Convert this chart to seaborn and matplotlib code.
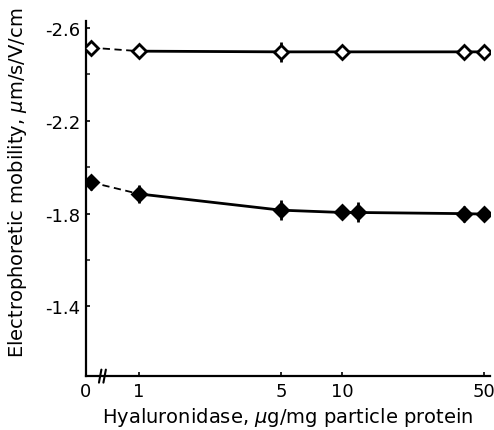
import matplotlib

matplotlib.use("Agg")
import matplotlib.pyplot as plt
import numpy as np
import pandas as pd
import seaborn as sns

# hyaluronidase dose (ug/mg particle protein) and mobility (um/s/V/cm)
dose_open = [0, 1, 5, 10, 40, 50]
mob_open = [-2.515, -2.500, -2.497, -2.497, -2.497, -2.497]
err_open = [0.020, 0.012, 0.042, 0.020, 0.030, 0.020]

dose_filled = [0, 1, 5, 10, 12, 40, 50]
mob_filled = [-1.935, -1.885, -1.815, -1.805, -1.805, -1.800, -1.798]
err_filled = [0.032, 0.040, 0.043, 0.025, 0.043, 0.035, 0.030]

x_ticks = [0, 1, 5, 10, 50]
x_ticklabels = ["0", "1", "5", "10", "50"]
y_ticks = [-2.6, -2.2, -1.8, -1.4]
y_minor = [-2.4, -2.0, -1.6]

ZERO_POS = -0.236   # where the "0" dose sits on the broken log axis
AXIS_LEFT = -0.261


def pos(d):
    d = np.asarray(d, dtype=float)
    return np.where(d > 0, np.log10(np.where(d > 0, d, 1)), ZERO_POS)


sns.set_theme(style="ticks")
plt.rcParams["font.family"] = ["DejaVu Sans"]
plt.rcParams["axes.unicode_minus"] = False

frames = []
for name, d, m, e in [("open", dose_open, mob_open, err_open),
                      ("filled", dose_filled, mob_filled, err_filled)]:
    frames.append(pd.DataFrame({"series": name, "dose": d, "mob": m, "err": e}))
df = pd.concat(frames, ignore_index=True)
df["pos"] = pos(df["dose"])

fig = plt.figure(figsize=(4.94, 4.31), dpi=100)
ax = fig.add_axes([0.174, 0.125, 0.818, 0.824])

solid = df[df["dose"] >= 1]
dashed = df[df["dose"] <= 1]
sns.lineplot(data=solid, x="pos", y="mob", units="series", estimator=None,
             color="black", lw=2.0, ax=ax, legend=False)
sns.lineplot(data=dashed, x="pos", y="mob", units="series", estimator=None,
             color="black", lw=1.3, ls=(0, (4, 2.5)), ax=ax, legend=False)

for name, face in [("open", "white"), ("filled", "black")]:
    s = df[df["series"] == name]
    ax.errorbar(s["pos"], s["mob"], yerr=s["err"], fmt="D", ms=7.5,
                mfc=face, mec="black", mew=2.0, ecolor="black",
                elinewidth=2.0, capsize=0, zorder=5)

ax.set_xlim(AXIS_LEFT, 1.729)
ax.set_ylim(-1.1, -2.63)
ax.set_xticks([AXIS_LEFT] + list(pos(x_ticks[1:])))
ax.set_xticklabels(x_ticklabels)
ax.set_yticks(y_ticks)
ax.set_yticklabels([f"{v:.1f}" for v in y_ticks])
ax.set_yticks(y_minor, minor=True)
ax.tick_params(axis="both", direction="in", length=3, width=1.2,
               labelsize=13, colors="black", pad=4)
ax.tick_params(axis="x", pad=4)
ax.tick_params(axis="y", which="minor", direction="in", length=3, width=1.2)
ax.xaxis.get_major_ticks()[0].tick1line.set_visible(False)

for side in ["top", "right"]:
    ax.spines[side].set_visible(False)
for side in ["left", "bottom"]:
    ax.spines[side].set_linewidth(1.6)
    ax.spines[side].set_color("black")

# axis break marks
bx = -0.18
for dx in (-0.011, 0.011):
    ax.plot([bx + dx - 0.006, bx + dx + 0.006], [-1.072, -1.128], color="black",
            lw=1.5, clip_on=False, transform=ax.transData)

ax.set_xlabel("Hyaluronidase, $\\mu$g/mg particle protein", fontsize=14,
              color="black", labelpad=4)
ax.set_ylabel("Electrophoretic mobility, $\\mu$m/s/V/cm", fontsize=14,
              color="black", labelpad=3)
ax.yaxis.set_label_coords(-0.14, 0.547)

fig.savefig("out.png", dpi=100)
